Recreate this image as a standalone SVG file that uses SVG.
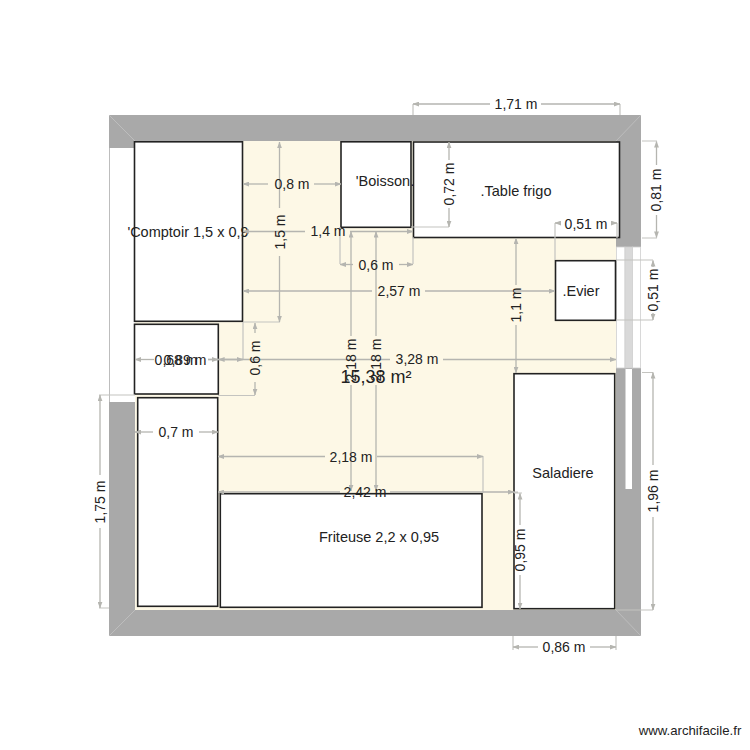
<svg xmlns="http://www.w3.org/2000/svg" width="750" height="750" viewBox="0 0 750 750">
<style>
text{font-family:"Liberation Sans",Arial,sans-serif;font-size:14px;fill:#222;text-anchor:middle}
.box{fill:#fff;stroke:#222;stroke-width:1.6}
.box+text{font-size:14.5px}
.d{fill:none;stroke:#b5b5b0;stroke-width:1.3;marker-start:url(#a)}
.e{fill:none;stroke:#c4c4c0;stroke-width:1.2}
.m{fill:none;stroke:#bdbdbd;stroke-width:1}
</style>
<defs>
<marker id="a" viewBox="0 0 8 6" refX="7.5" refY="3" markerWidth="6.5" markerHeight="5" markerUnits="userSpaceOnUse" orient="auto-start-reverse"><path d="M8 3L0 0V6Z" fill="#b5b5b0"/></marker>
</defs>
<rect width="750" height="750" fill="#fff"/>
<g id="plan">
<rect id="floor" x="135" y="141" width="481" height="469" fill="#fdf8e6"/>
<path fill="#a9a9a9" d="M109 115H641V247H616V141H135V148H109Z"/>
<path fill="#a9a9a9" d="M109 402H135V610H616V368H641V636H109Z"/>
<rect x="616.5" y="247" width="8.5" height="121" fill="#fff" stroke="#cfcfcf" stroke-width="0.8"/>
<rect x="625" y="247" width="7.5" height="121" fill="#d9d9d9" stroke="#cfcfcf" stroke-width="0.8"/>
<rect x="632.5" y="247" width="8" height="121" fill="#fff" stroke="#cfcfcf" stroke-width="0.8"/>
<rect x="625.5" y="369" width="6.5" height="120" fill="#fff"/>
<path class="m" d="M109.5 148V402M109 115L135 141M641 115L616 141M109 636L135 610M641 636L616 610"/>
</g>
<g id="comptoir"><rect class="box" x="134.5" y="141.8" width="108" height="179.5"/><text x="188" y="237">'Comptoir 1,5 x 0,9</text></g>
<g id="boisson"><rect class="box" x="341" y="141.8" width="70" height="85.5"/><text x="385" y="186">'Boisson.</text></g>
<g id="table-frigo"><rect class="box" x="413.5" y="142" width="206" height="95.5"/><text x="516" y="196">.Table frigo</text></g>
<g id="evier"><rect class="box" x="555.5" y="260.7" width="60" height="59.6"/><text x="581" y="296">.Evier</text></g>
<g id="petit-meuble"><rect class="box" x="134.5" y="324.3" width="83.8" height="69.7"/></g>
<g id="meuble-gauche"><rect class="box" x="137.7" y="397.7" width="80" height="208.6"/></g>
<g id="friteuse"><rect class="box" x="220.3" y="493.7" width="261.7" height="113.6"/><text x="379" y="542">Friteuse 2,2 x 0,95</text></g>
<g id="saladiere"><rect class="box" x="514" y="373.7" width="100.7" height="235"/><text x="563" y="478">Saladiere</text></g>
<g id="connectors">
<path class="e" d="M413 104V115M620 104V115M642 141H657M642 238H657M555 223V260M617 223V238M616 260H653M616 320H653M411 227H449M340 227V264M413 237V264M243 322H280M218 395.5H255M99 395H135M99 608H109M483 456V493M514 492H518M514 493H522M642 372.5H653M616 610H653M513 636V650M616 636V650M243 322V359"/>
<path class="d" d="M413 104H490"/><path class="d" d="M620 104H541"/>
<path class="d" d="M656.5 141.5V165"/><path class="d" d="M656.5 237.5V215"/>
<path class="d" d="M555 223H560"/><path class="d" d="M617 223H612"/>
<path class="d" d="M653 260.5V267"/><path class="d" d="M653 320V313"/>
<path class="d" d="M449 142V160"/><path class="d" d="M449 227V208"/>
<path class="d" d="M243 184H268"/><path class="d" d="M341 184H314"/>
<path class="d" d="M243 231.5H305"/><path class="d" d="M413 231.5H350"/>
<path class="d" d="M340 264.500H353"/><path class="d" d="M413 264.500H399"/>
<path class="d" d="M243 291H372"/><path class="d" d="M555 291H425"/>
<path class="d" d="M516 238V285"/><path class="d" d="M516 373V325"/>
<path class="d" d="M279.500 142V208"/><path class="d" d="M279.500 322V256"/>
<path class="d" d="M255 323V333"/><path class="d" d="M255 395V382"/>
<path class="d" d="M351 231.500V336"/><path class="d" d="M351 491V385"/>
<path class="d" d="M376 231.500V336"/><path class="d" d="M376 491V385"/>
<path class="d" d="M135 359.500H154"/><path class="d" d="M218 359.500H208"/>
<path class="d" d="M243 359.500H208"/><path class="d" d="M218.500 359.500H390"/><path class="d" d="M616 359.500H443"/>
<path class="d" d="M135 432H153"/><path class="d" d="M218 432H199"/>
<path class="d" d="M218 456.500H325"/><path class="d" d="M483 456.500H377"/>
<path class="d" d="M218 492H340"/><path class="d" d="M514 492H390"/>
<path class="d" d="M520 493.500V525"/><path class="d" d="M520 609V575"/>
<path class="d" d="M653 372.500V465"/><path class="d" d="M653 610V517"/>
<path class="d" d="M513 647H538"/><path class="d" d="M616 647H590"/>
<path class="d" d="M100 395V475"/><path class="d" d="M100 608V528"/>
<text x="516" y="109">1,71 m</text>
<text x="586" y="229">0,51 m</text>
<text x="292" y="189">0,8 m</text>
<text x="328" y="236">1,4 m</text>
<text x="376" y="270">0,6 m</text>
<text x="399" y="296">2,57 m</text>
<text x="176" y="365">0,68 m</text>
<text x="185" y="365">0,89 m</text>
<text x="417" y="364">3,28 m</text>
<text x="176" y="437">0,7 m</text>
<text x="351" y="462">2,18 m</text>
<text x="365" y="497">2,42 m</text>
<text x="564" y="652">0,86 m</text>
<text transform="translate(454 184) rotate(-90)">0,72 m</text>
<text transform="translate(661 190) rotate(-90)">0,81 m</text>
<text transform="translate(658 290) rotate(-90)">0,51 m</text>
<text transform="translate(521 305) rotate(-90)">1,1 m</text>
<text transform="translate(284.500 232) rotate(-90)">1,5 m</text>
<text transform="translate(260 358) rotate(-90)">0,6 m</text>
<text transform="translate(356 360) rotate(-90)">2,18 m</text>
<text transform="translate(381 360) rotate(-90)">2,18 m</text>
<text transform="translate(525 550) rotate(-90)">0,95 m</text>
<text transform="translate(658 491) rotate(-90)">1,96 m</text>
<text transform="translate(105 502) rotate(-90)">1,75 m</text>
</g>
<text id="surface" x="376" y="383" style="font-size:18px">15,38 m²</text>
<text id="credit" x="690" y="735" style="font-size:13.200px">www.archifacile.fr</text>
</svg>
